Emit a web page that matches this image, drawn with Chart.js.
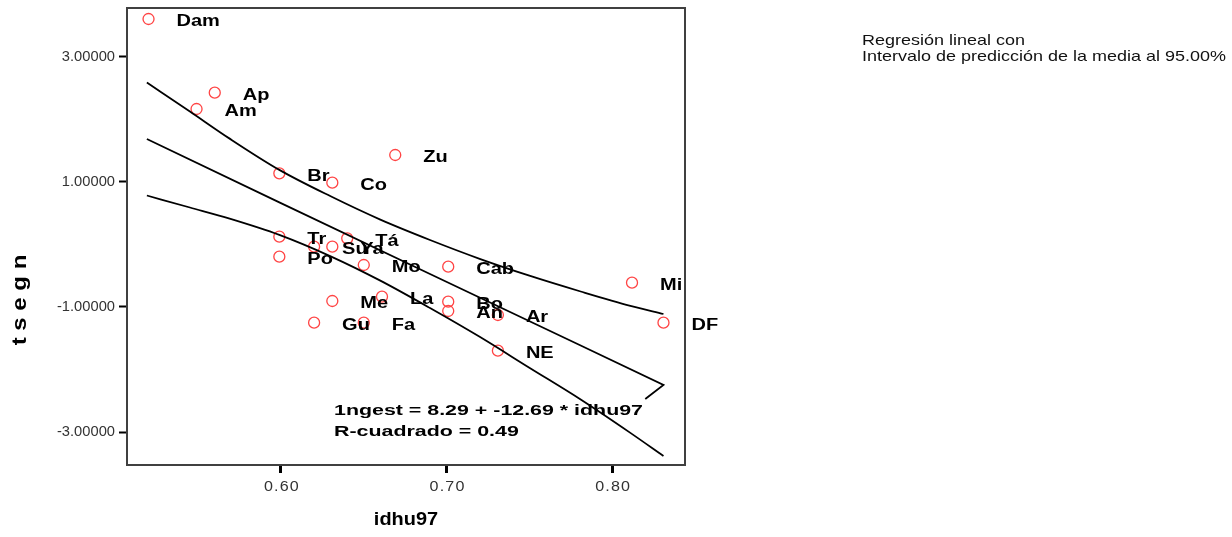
<!DOCTYPE html>
<html>
<head>
<meta charset="utf-8">
<script src="https://cdn.jsdelivr.net/npm/chart.js@4/dist/chart.umd.min.js"></script>
<style>
  html, body { margin: 0; padding: 0; background: #fff; }
  #wrap { width: 1232px; height: 537px; }
</style>
</head>
<body>
<div id="wrap"><canvas id="scatterChart"></canvas></div>
<script>
// states / entities and their values
const places = ['Dam', 'Ap', 'Am', 'Zu', 'Br', 'Co', 'Tr', 'Po', 'Su', 'Ya', 'Tá', 'Mo', 'Cab',
                'Me', 'La', 'Bo', 'An', 'Gu', 'Fa', 'Ar', 'NE', 'Mi', 'DF'];
const idhu97 = [0.520, 0.560, 0.549, 0.669, 0.599, 0.631, 0.599, 0.599, 0.620, 0.631, 0.640, 0.650, 0.701,
                0.631, 0.661, 0.701, 0.701, 0.620, 0.650, 0.731, 0.731, 0.812, 0.831];
const tsegn = [3.608, 2.429, 2.168, 1.432, 1.139, 0.989, 0.125, -0.195, -0.035, -0.035, 0.099, -0.328, -0.355,
               -0.904, -0.835, -0.915, -1.064, -1.251, -1.251, -1.128, -1.699, -0.611, -1.251];

// prediction band curves
const bandX = [0.519, 0.545, 0.569, 0.599, 0.630, 0.660, 0.690, 0.720, 0.750, 0.781, 0.811, 0.831];
const upperBand = [2.592, 2.128, 1.694, 1.194, 0.771, 0.398, 0.072, -0.229, -0.499, -0.752, -0.982, -1.112];
const lowerBand = [0.784, 0.592, 0.414, 0.154, -0.189, -0.578, -1.016, -1.477, -1.971, -2.480, -3.014, -3.384];

// fitted line (ends with the small return stroke seen at the right)
const fitX = [0.519, 0.599, 0.690, 0.781, 0.831, 0.820];
const fitY = [1.688, 0.674, -0.472, -1.616, -2.248, -2.472];

const xTicks = [0.60, 0.70, 0.80];
const yTicks = [-3, -1, 1, 3];

const pts = (xs, ys) => xs.map((v, i) => ({ x: v, y: ys[i] }));
const FONT = '"Liberation Sans", Arial, sans-serif';

// draw text stretched horizontally by sx
function wide(ctx, text, x, y, sx) {
    ctx.save();
    ctx.translate(x, y);
    ctx.scale(sx, 1);
    ctx.fillText(text, 0, 0);
    ctx.restore();
}

const overlay = {
    id: 'overlay',
    afterDatasetsDraw(chart) {
        const { ctx, chartArea: a, scales: { x, y } } = chart;
        ctx.save();
        ctx.strokeStyle = '#404040';
        ctx.lineWidth = 2;
        ctx.strokeRect(a.left, a.top, a.right - a.left, a.bottom - a.top);

        // tick labels
        ctx.fillStyle = '#333';
        ctx.textBaseline = 'middle';
        ctx.font = '14px ' + FONT;
        ctx.letterSpacing = '1px';
        ctx.textAlign = 'center';
        xTicks.forEach(v => wide(ctx, v.toFixed(2), x.getPixelForValue(v) + 1, 487, 1.15));
        ctx.letterSpacing = '0px';
        ctx.textAlign = 'right';
        yTicks.forEach(v => wide(ctx, v.toFixed(5), 115, y.getPixelForValue(v), 1.05));

        // point labels
        ctx.fillStyle = '#000';
        ctx.textAlign = 'left';
        ctx.font = 'bold 16px ' + FONT;
        places.forEach((p, i) => {
            wide(ctx, p, x.getPixelForValue(idhu97[i]) + 28, y.getPixelForValue(tsegn[i]) + 3, 1.25);
        });

        // regression note
        ctx.font = 'bold 15px ' + FONT;
        const sx = 309 / ctx.measureText('1ngest = 8.29 + -12.69 * idhu97').width;
        wide(ctx, '1ngest = 8.29 + -12.69 * idhu97', 334, 411, sx);
        wide(ctx, 'R-cuadrado = 0.49', 334, 432, sx);

        // axis titles
        ctx.font = 'bold 19px ' + FONT;
        ctx.textAlign = 'center';
        wide(ctx, 'idhu97', (a.left + a.right) / 2, 520, 1.05);
        ctx.save();
        ctx.translate(20, 300);
        ctx.rotate(-Math.PI / 2);
        ctx.font = 'bold 20px ' + FONT;
        wide(ctx, 't s e g n', 0, 0, 1.2);
        ctx.restore();

        // legend note
        ctx.font = '15px ' + FONT;
        ctx.textAlign = 'left';
        ctx.fillStyle = '#111';
        const lx = 364 / ctx.measureText('Intervalo de predicción de la media al 95.00%').width;
        wide(ctx, 'Regresión lineal con', 862, 41, lx);
        wide(ctx, 'Intervalo de predicción de la media al 95.00%', 862, 57, lx);
        ctx.restore();
    }
};

const curve = (data) => ({
    type: 'line',
    data: data,
    borderColor: '#000',
    borderWidth: 1.8,
    pointRadius: 0,
    fill: false,
    cubicInterpolationMode: 'monotone'
});

new Chart(document.getElementById('scatterChart'), {
    type: 'scatter',
    data: {
        datasets: [
            curve(pts(bandX, upperBand)),
            Object.assign(curve(pts(fitX, fitY)), { cubicInterpolationMode: 'default', tension: 0 }),
            curve(pts(bandX, lowerBand)),
            {
                label: 'tsegn',
                data: pts(idhu97, tsegn),
                pointStyle: 'circle',
                pointRadius: 5.5,
                pointBorderWidth: 1.3,
                pointBorderColor: '#ff4444',
                pointBackgroundColor: 'rgba(0,0,0,0)'
            }
        ]
    },
    options: {
        responsive: true,
        maintainAspectRatio: false,
        animation: false,
        layout: { autoPadding: false, padding: { left: 0, right: 547, top: 8, bottom: 0 } },
        plugins: {
            legend: { display: false },
            tooltip: { enabled: false }
        },
        scales: {
            x: {
                type: 'linear',
                min: 0.507,
                max: 0.844,
                afterBuildTicks: (s) => { s.ticks = xTicks.map(v => ({ value: v })); },
                afterFit: (s) => { s.height = 72; },
                border: { display: false },
                grid: { drawOnChartArea: false, drawTicks: true, tickLength: 8, tickWidth: 3, tickColor: '#000' },
                ticks: { display: false }
            },
            y: {
                min: -3.528,
                max: 3.784,
                afterBuildTicks: (s) => { s.ticks = yTicks.map(v => ({ value: v })); },
                afterFit: (s) => { s.width = 127; },
                border: { display: false },
                grid: { drawOnChartArea: false, drawTicks: true, tickLength: 8, tickWidth: 2, tickColor: '#000' },
                ticks: { display: false }
            }
        }
    },
    plugins: [overlay]
});
</script>
</body>
</html>
